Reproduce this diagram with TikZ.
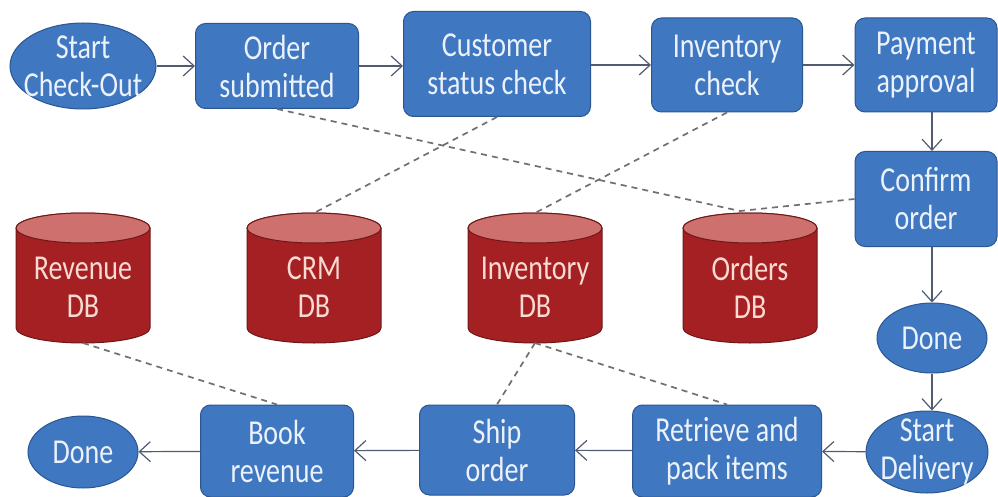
\documentclass[tikz,border=0pt]{standalone}
\usepackage{fontspec}
\setmainfont{Carlito}
\newfontfamily\diagfont[FakeStretch=0.8]{Carlito}
\usetikzlibrary{shapes.geometric,arrows.meta}

\definecolor{boxblue}{RGB}{63,119,192}
\definecolor{boxedge}{RGB}{42,86,146}
\definecolor{boxtext}{RGB}{236,242,252}
\definecolor{dbbody}{RGB}{164,32,35}
\definecolor{dbtop}{RGB}{206,112,110}
\definecolor{dbedge}{RGB}{110,24,24}
\definecolor{dbtext}{RGB}{250,218,210}
\definecolor{flowline}{RGB}{82,92,112}
\definecolor{linkline}{RGB}{112,112,112}

\tikzset{
  txt/.style={text=boxtext, font=\diagfont\fontsize{35}{38}\selectfont, align=center},
  stepbox/.style={txt, rectangle, rounded corners=10pt, fill=boxblue,
    draw=boxedge, line width=1pt, inner sep=0pt},
  terminal/.style={ellipse, fill=boxblue, draw=boxedge, line width=1pt, inner sep=0pt},
  flow/.style={draw=flowline, line width=1.2pt,
    -{Straight Barb[length=11pt,width=20pt,line width=1.2pt]}},
  link/.style={draw=linkline, line width=1.7pt, dash pattern=on 6pt off 5pt},
  dblabel/.style={text=dbtext, font=\diagfont\fontsize{35}{38}\selectfont, align=center},
}

% database cylinder: name, centre x, label
\newcommand\dbstore[3]{%
  \fill[dbbody, draw=dbedge, line width=1pt]
    (#2-67,228) -- (#2-67,328)
    arc[start angle=180, end angle=360, x radius=67pt, y radius=15pt]
    -- (#2+67,228)
    arc[start angle=0, end angle=180, x radius=67pt, y radius=15pt] -- cycle;
  \filldraw[fill=dbtop, draw=dbedge, line width=1pt]
    (#2,228) ellipse[x radius=67pt, y radius=15pt];
  \node[dblabel] (#1) at (#2,287) {#3};
  \coordinate (#1 top) at (#2,213);
  \coordinate (#1 bottom) at (#2,343);
}

\begin{document}
\begin{tikzpicture}[x=1pt, y=-1pt]
  \useasboundingbox (0,0) rectangle (998,497);
  \fill[white] (0,0) rectangle (998,497);

  % databases
  \dbstore{revdb}{83}{Revenue\\DB}
  \dbstore{crmdb}{314}{CRM\\DB}
  \dbstore{invdb}{535}{Inventory\\DB}
  \dbstore{orddb}{750}{Orders\\DB}
  \coordinate (ordlink) at (740,211);

  % process steps, top row
  \node[terminal, minimum width=146pt, minimum height=86pt,
    label={[txt]center:{Start\\Check-Out}}] (start) at (83,66) {};
  \node[stepbox, minimum width=163pt, minimum height=85pt] (submit) at (277,66) {Order\\submitted};
  \node[stepbox, minimum width=187pt, minimum height=105pt] (custchk) at (497,64) {Customer\\status check};
  \node[stepbox, minimum width=151pt, minimum height=94pt] (invchk) at (727,65) {Inventory\\check};
  \node[stepbox, minimum width=142pt, minimum height=94pt] (payment) at (926,65) {Payment\\approval};

  % right column
  \node[stepbox, minimum width=142pt, minimum height=95pt] (confirm) at (926,199) {Confirm\\order};
  \node[terminal, minimum width=110pt, minimum height=70pt,
    label={[txt]center:Done}] (done1) at (932,338) {};
  \node[terminal, minimum width=122pt, minimum height=82pt,
    label={[txt]center:{Start\\Delivery}}] (startdel) at (927,452) {};

  % bottom row
  \node[stepbox, minimum width=189pt, minimum height=92pt] (retrieve) at (727,451) {Retrieve and\\pack items};
  \node[stepbox, minimum width=155pt, minimum height=90pt] (ship) at (497,450) {Ship\\order};
  \node[stepbox, minimum width=153pt, minimum height=92pt] (book) at (277,451) {Book\\revenue};
  \node[terminal, minimum width=110pt, minimum height=72pt,
    label={[txt]center:Done}] (done2) at (83,452) {};

  % data access links
  \draw[link] (submit.south) -- (ordlink);
  \draw[link] (confirm.west) -- (ordlink);
  \draw[link] (custchk.south) -- (crmdb top);
  \draw[link] (invchk.south) -- (invdb top);
  \draw[link] (revdb bottom) -- (book.north);
  \draw[link] (invdb bottom) -- (ship.north);
  \draw[link] (invdb bottom) -- (retrieve.north);

  % process flow
  \draw[flow] (start) -- (submit);
  \draw[flow] (submit) -- (custchk.west |- submit);
  \draw[flow] (custchk.east |- invchk) -- (invchk);
  \draw[flow] (invchk) -- (payment);
  \draw[flow] (payment.south -| done1) -- (confirm.north -| done1);
  \draw[flow] (confirm.south -| done1) -- (done1);
  \draw[flow] (done1) -- (startdel.north -| done1);
  \draw[flow] (startdel) -- (retrieve);
  \draw[flow] (retrieve) -- (ship);
  \draw[flow] (ship) -- (book);
  \draw[flow] (book) -- (done2);
\end{tikzpicture}
\end{document}
